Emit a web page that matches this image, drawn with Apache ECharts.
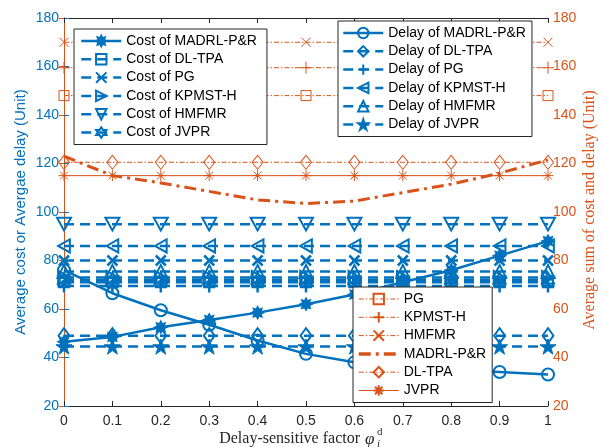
<!DOCTYPE html>
<html>
<head>
<meta charset="utf-8">
<script src="https://cdn.jsdelivr.net/npm/echarts@6/dist/echarts.min.js"></script>
<style>
  html, body { margin: 0; padding: 0; background: #fff; }
  #chart { width: 603px; height: 447px; }
</style>
</head>
<body>
<div id="chart"></div>
<script>
// Delay-sensitive factor values on the x axis
const factors = [0, 0.1, 0.2, 0.3, 0.4, 0.5, 0.6, 0.7, 0.8, 0.9, 1];

// Left axis: average cost / average delay (Unit)
const costMADRL  = [46.5, 48.5, 52.5, 55.5, 58.5, 62, 66, 71, 76, 82, 88];
const costDLTPA  = [71, 71, 71, 71, 71, 71, 71, 71, 71, 71, 71];
const costPG     = [80, 80, 80, 80, 80, 80, 80, 80, 80, 80, 80];
const costKPMST  = [73, 73, 73, 73, 73, 73, 73, 73, 73, 73, 73];
const costHMFMR  = [95, 95, 95, 95, 95, 95, 95, 95, 95, 95, 95];
const costJVPR   = [72, 72, 72, 72, 72, 72, 72, 72, 72, 72, 72];
const delayMADRL = [76, 66.5, 59.5, 53.5, 47, 41.5, 38, 36.5, 35, 34, 33];
const delayDLTPA = [49, 49, 49, 49, 49, 49, 49, 49, 49, 49, 49];
const delayPG    = [69.5, 69.5, 69.5, 69.5, 69.5, 69.5, 69.5, 69.5, 69.5, 69.5, 69.5];
const delayKPMST = [86, 86, 86, 86, 86, 86, 86, 86, 86, 86, 86];
const delayHMFMR = [75.5, 75.5, 75.5, 75.5, 75.5, 75.5, 75.5, 75.5, 75.5, 75.5, 75.5];
const delayJVPR  = [44.5, 44.5, 44.5, 44.5, 44.5, 44.5, 44.5, 44.5, 44.5, 44.5, 44.5];

// Right axis: average sum of cost and delay (Unit)
const sumPG     = [148, 148, 148, 148, 148, 148, 148, 148, 148, 148, 148];
const sumKPMST  = [159.5, 159.5, 159.5, 159.5, 159.5, 159.5, 159.5, 159.5, 159.5, 159.5, 159.5];
const sumHMFMR  = [170, 170, 170, 170, 170, 170, 170, 170, 170, 170, 170];
const sumMADRL  = [123, 115, 112, 108.5, 105, 103.5, 104.5, 108, 111.5, 116, 121.5];
const sumDLTPA  = [120.5, 120.5, 120.5, 120.5, 120.5, 120.5, 120.5, 120.5, 120.5, 120.5, 120.5];
const sumJVPR   = [115, 115, 115, 115, 115, 115, 115, 115, 115, 115, 115];

const yTicks = { min: 20, max: 180, interval: 20 };

const BLUE = '#0072BD';
const ORANGE = '#D95319';
const DARK = '#262626';
const SANS = '"Liberation Sans", Arial, sans-serif';
const SERIF = '"Liberation Serif", "Times New Roman", serif';

// marker shapes
const SYM = {
  asterisk: 'path://M10,0L10,20M0,10L20,10M2.9,2.9L17.1,17.1M17.1,2.9L2.9,17.1',
  blob: 'path://M10,0L12.3,4.5L17.1,2.9L15.5,7.7L20,10L15.5,12.3L17.1,17.1L12.3,15.5L10,20L7.7,15.5L2.9,17.1L4.5,12.3L0,10L4.5,7.7L2.9,2.9L7.7,4.5Z',
  cross: 'path://M0,0L20,20M20,0L0,20',
  plus: 'path://M10,0L10,20M0,10L20,10',
  triDown: 'path://M0,1L20,1L10,19Z',
  triRight: 'path://M1,0L19,10L1,20Z',
  triLeft: 'path://M19,0L1,10L19,20Z',
  hexagram: 'path://M10,0L12.89,5L18.66,5L15.77,10L18.66,15L12.89,15L10,20L7.11,15L1.34,15L4.23,10L1.34,5L7.11,5Z',
  pentagram: 'path://M10,0L12.25,6.91L19.51,6.91L13.63,11.18L15.88,18.09L10,13.82L4.12,18.09L6.37,11.18L0.49,6.91L7.75,6.91Z'
};

const pairs = (vals) => factors.map((x, i) => [x, vals[i]]);

function line(name, vals, axis, color, o) {
  return {
    name: name,
    type: 'line',
    yAxisIndex: axis,
    data: pairs(vals),
    symbol: o.symbol || 'none',
    symbolSize: o.size || 10,
    symbolKeepAspect: true,
    showSymbol: o.symbol ? true : false,
    lineStyle: { color: color, width: o.width, type: o.dash || 'solid' },
    itemStyle: o.symbol
      ? { color: o.filled ? color : 'rgba(0,0,0,0)', borderColor: color, borderWidth: o.bw || 2 }
      : { color: 'rgba(0,0,0,0)', opacity: 0 },
    z: o.z || 2,
    silent: true
  };
}

const DASH = [10, 6];
const DASHDOT = [5, 2, 1.5, 2];
const THICKDD = [12, 5, 3, 5];

const series = [
  line('Cost of MADRL-P&R', costMADRL, 0, BLUE, { width: 2.5, symbol: SYM.blob, size: 12, bw: 1.5, filled: true, z: 3 }),
  line('Cost of DL-TPA', costDLTPA, 0, BLUE, { width: 2.5, dash: DASH, symbol: 'rect', size: 10, bw: 2 }),
  line('Cost of PG', costPG, 0, BLUE, { width: 2.5, dash: DASH, symbol: SYM.cross, size: 10, bw: 2.5 }),
  line('Cost of KPMST-H', costKPMST, 0, BLUE, { width: 2.5, dash: DASH, symbol: SYM.triRight, size: 13, bw: 2 }),
  line('Cost of HMFMR', costHMFMR, 0, BLUE, { width: 2.5, dash: DASH, symbol: SYM.triDown, size: 14, bw: 2 }),
  line('Cost of JVPR', costJVPR, 0, BLUE, { width: 2.5, dash: DASH, symbol: SYM.hexagram, size: 14, bw: 2 }),
  line('Delay of MADRL-P&R', delayMADRL, 0, BLUE, { width: 2.5, symbol: 'circle', size: 12, bw: 2, z: 3 }),
  line('Delay of DL-TPA', delayDLTPA, 0, BLUE, { width: 2.5, dash: DASH, symbol: 'diamond', size: [11, 15], bw: 2 }),
  line('Delay of PG', delayPG, 0, BLUE, { width: 2.5, dash: DASH, symbol: SYM.plus, size: 13, bw: 2.5 }),
  line('Delay of KPMST-H', delayKPMST, 0, BLUE, { width: 2.5, dash: DASH, symbol: SYM.triLeft, size: 13, bw: 2 }),
  line('Delay of HMFMR', delayHMFMR, 0, BLUE, { width: 2.5, dash: DASH, symbol: 'triangle', size: 13, bw: 2 }),
  line('Delay of JVPR', delayJVPR, 0, BLUE, { width: 2.5, dash: DASH, symbol: SYM.pentagram, size: 16, bw: 1, filled: true }),

  line('PG', sumPG, 1, ORANGE, { width: 1, dash: DASHDOT, symbol: 'rect', size: 10, bw: 1 }),
  line('KPMST-H', sumKPMST, 1, ORANGE, { width: 1, dash: DASHDOT, symbol: SYM.plus, size: 12, bw: 1 }),
  line('HMFMR', sumHMFMR, 1, ORANGE, { width: 1, dash: DASHDOT, symbol: SYM.cross, size: 9, bw: 1 }),
  line('MADRL-P&R', sumMADRL, 1, ORANGE, { width: 3, dash: THICKDD }),
  line('DL-TPA', sumDLTPA, 1, ORANGE, { width: 1, dash: DASHDOT, symbol: 'diamond', size: [11, 14], bw: 1 }),
  line('JVPR', sumJVPR, 1, ORANGE, { width: 1, symbol: SYM.asterisk, size: 11, bw: 1 })
];

const legendBase = {
  orient: 'vertical',
  itemWidth: 40,
  itemHeight: 13,
  itemGap: 4.3,
  backgroundColor: '#fff',
  borderColor: DARK,
  borderWidth: 1,
  borderRadius: 0,
  selectedMode: false,
  textStyle: { color: '#000', fontSize: 14, fontFamily: SANS },
  z: 10
};

const option = {
  animation: false,
  backgroundColor: '#fff',
  grid: { left: 64, right: 55, top: 18, bottom: 41, containLabel: false },
  xAxis: [
    {
      type: 'value', position: 'bottom', min: 0, max: 1, interval: 0.1,
      axisLine: { show: true, onZero: false, lineStyle: { color: DARK, width: 1 } },
      axisTick: { show: true, inside: true, length: 5, lineStyle: { color: DARK } },
      axisLabel: { color: DARK, fontSize: 14, fontFamily: SANS, margin: 8 },
      splitLine: { show: false }
    },
    {
      type: 'value', position: 'top', min: 0, max: 1, interval: 0.1,
      axisLine: { show: true, onZero: false, lineStyle: { color: DARK, width: 1 } },
      axisTick: { show: true, inside: true, length: 5, lineStyle: { color: DARK } },
      axisLabel: { show: false },
      splitLine: { show: false }
    }
  ],
  yAxis: [
    {
      type: 'value', position: 'left', min: yTicks.min, max: yTicks.max, interval: yTicks.interval,
      axisLine: { show: true, lineStyle: { color: BLUE, width: 1 } },
      axisTick: { show: true, inside: true, length: 5, lineStyle: { color: BLUE } },
      axisLabel: { color: BLUE, fontSize: 14, fontFamily: SANS, margin: 5 },
      splitLine: { show: false }
    },
    {
      type: 'value', position: 'right', min: yTicks.min, max: yTicks.max, interval: yTicks.interval,
      axisLine: { show: true, lineStyle: { color: ORANGE, width: 1 } },
      axisTick: { show: true, inside: true, length: 5, lineStyle: { color: ORANGE } },
      axisLabel: { color: ORANGE, fontSize: 14, fontFamily: SANS, margin: 5 },
      splitLine: { show: false }
    }
  ],
  legend: [
    Object.assign({}, legendBase, {
      left: 74, top: 29, padding: [5, 10, 5, 6],
      lineStyle: { width: 2.5 },
      data: ['Cost of MADRL-P&R', 'Cost of DL-TPA', 'Cost of PG', 'Cost of KPMST-H', 'Cost of HMFMR', 'Cost of JVPR']
    }),
    Object.assign({}, legendBase, {
      left: 338, top: 21, padding: [5, 6, 5, 4],
      lineStyle: { width: 2.5 },
      data: ['Delay of MADRL-P&R', 'Delay of DL-TPA', 'Delay of PG', 'Delay of KPMST-H', 'Delay of HMFMR', 'Delay of JVPR']
    }),
    Object.assign({}, legendBase, {
      left: 353, top: 287, padding: [5, 6, 5, 4],
      lineStyle: { width: 1 },
      data: ['PG', 'KPMST-H', 'HMFMR', { name: 'MADRL-P&R', lineStyle: { width: 3.5 } }, 'DL-TPA', 'JVPR']
    })
  ],
  graphic: [
    {
      type: 'text', x: 21, y: 212, rotation: Math.PI / 2,
      style: { text: 'Average cost or Avergae delay (Unit)', fill: BLUE, font: '15px ' + SANS, align: 'center', verticalAlign: 'middle' }
    },
    {
      type: 'text', x: 590, y: 210, rotation: Math.PI / 2,
      style: { text: 'Average sum of cost and delay (Unit)', fill: ORANGE, font: '16px ' + SERIF, align: 'center', verticalAlign: 'middle' }
    },
    {
      type: 'text', x: 364, y: 439,
      style: { text: 'Delay-sensitive factor ', fill: DARK, font: '16px ' + SERIF, align: 'right', verticalAlign: 'middle' }
    },
    {
      type: 'text', x: 365, y: 440,
      style: { text: 'φ', fill: DARK, font: 'italic 17px ' + SERIF, align: 'left', verticalAlign: 'middle' }
    },
    {
      type: 'text', x: 377, y: 432,
      style: { text: 'd', fill: DARK, font: '11px ' + SERIF, align: 'left', verticalAlign: 'middle' }
    },
    {
      type: 'text', x: 377, y: 444,
      style: { text: 'i', fill: DARK, font: 'italic 11px ' + SERIF, align: 'left', verticalAlign: 'middle' }
    }
  ],
  series: series
};

const chart = echarts.init(document.getElementById('chart'), null, { renderer: 'canvas' });
chart.setOption(option);
</script>
</body>
</html>
